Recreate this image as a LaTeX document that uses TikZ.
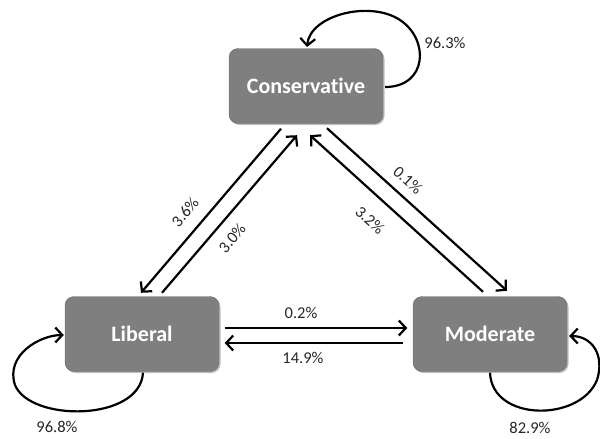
\documentclass[tikz,border=0pt]{standalone}
\usepackage{fontspec}
\setmainfont{Carlito}[Ligatures={NoCommon}]
\usetikzlibrary{arrows.meta,calc,shadows}
\definecolor{boxgray}{RGB}{127,127,127}
\begin{document}
\begin{tikzpicture}[x=1pt,y=-1pt,
  state/.style={draw=boxgray!85!black, line width=0.4pt, fill=boxgray, rounded corners=9pt,
    minimum width=154pt, minimum height=75pt, inner sep=0pt,
    text=white, font=\fontsize{22}{26}\selectfont\bfseries,
    drop shadow={shadow xshift=1.5pt, shadow yshift=-1.5pt, opacity=0.25, fill=black}},
  arr/.style={line width=2.2pt, -{Straight Barb[length=7pt,width=15pt,line width=2.2pt]}},
  lbl/.style={font=\fontsize{16.5}{19}\selectfont, text=black!85, inner sep=0pt}]
\useasboundingbox (0,0) rectangle (600,439);
\node[state] (C) at (306,86) {Conservative};
\node[state] (L) at (142,334) {Liberal};
\node[state] (M) at (490,334) {Moderate};
% diagonal left
\coordinate (cl1) at ($(C.south)+(-25,5)$);
\coordinate (ll1) at ($(L.north)+(-1,-3.5)$);
\coordinate (ll2) at ($(L.north)+(20,-3.5)$);
\coordinate (cl2) at ($(C.south)+(-9,11.5)$);
\draw[arr] (cl1) -- (ll1);
\draw[arr] (ll2) -- (cl2);
% diagonal right
\coordinate (mr1) at ($(M.north)+(-7,-4.5)$);
\coordinate (cr1) at ($(C.south)+(4,11.5)$);
\coordinate (cr2) at ($(C.south)+(21,4.5)$);
\coordinate (mr2) at ($(M.north)+(17,-5.5)$);
\draw[arr] (mr1) -- (cr1);
\draw[arr] (cr2) -- (mr2);
% horizontal
\coordinate (lh1) at ($(L.east)+(5.5,-6)$);
\coordinate (mh1) at ($(M.west)+(-5.5,-6)$);
\coordinate (mh2) at ($(M.west)+(-9.5,9)$);
\coordinate (lh2) at ($(L.east)+(5.5,9)$);
\draw[arr] (lh1) -- (mh1);
\draw[arr] (mh2) -- (lh2);
% self loops
\coordinate (cs) at ($(C.east)+(2,1)$);
\coordinate (ce) at (307,47);
\draw[arr] (cs) .. controls (427,87) and (430,40) .. (400,20)
  .. controls (370,0) and (310,15) .. (ce);
\coordinate (ls) at ($(L.south)+(1,1)$);
\coordinate (le) at ($(L.west)+(-1,1)$);
\draw[arr] (ls) .. controls (140,422) and (30,422) .. (15,385)
  .. controls (5,355) and (40,335) .. (le);
\coordinate (ms) at ($(M.south)+(0,1)$);
\coordinate (me) at ($(M.east)+(2,2)$);
\draw[arr] (ms) .. controls (492,422) and (580,422) .. (597,380)
  .. controls (605,355) and (592,336) .. (me);
% labels
\node[lbl] (t1) at (445,43) {96.3\%};
\node[lbl] (t2) at (57,427) {96.8\%};
\node[lbl] (t3) at (530,428) {82.9\%};
\node[lbl] (t4) at (301,313) {0.2\%};
\node[lbl] (t5) at (303,358) {14.9\%};
\node[lbl, rotate=50] (t6) at (185,212) {3.6\%};
\node[lbl, rotate=50] (t7) at (232,238) {3.0\%};
\node[lbl, rotate=-42] (t8) at (408,180) {0.1\%};
\node[lbl, rotate=-42] (t9) at (370,220) {3.2\%};
\end{tikzpicture}
\end{document}
